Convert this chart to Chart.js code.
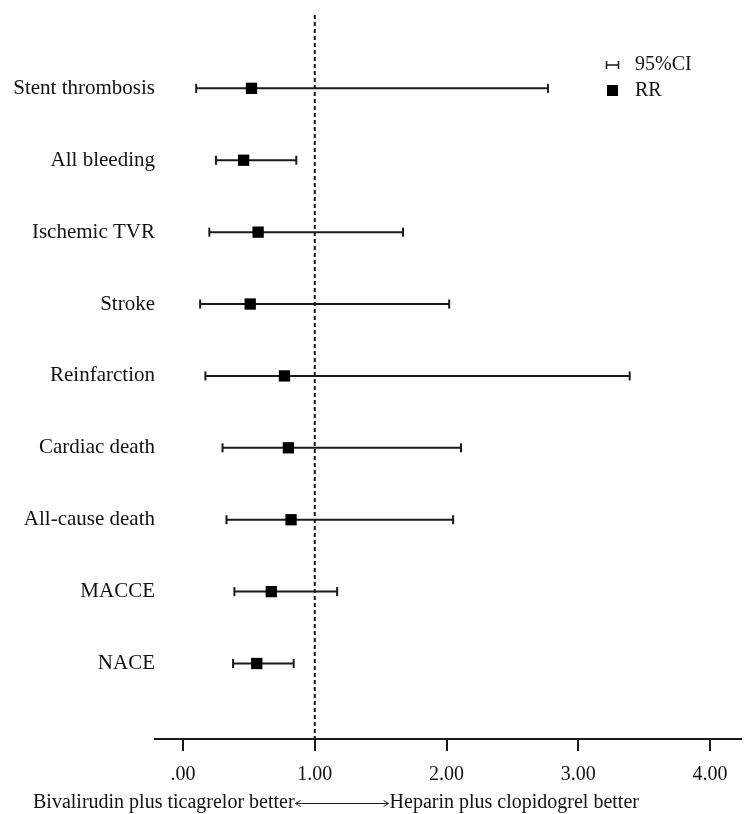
<!DOCTYPE html>
<html>
<head>
<meta charset="utf-8">
<script src="https://cdn.jsdelivr.net/npm/chart.js@4"></script>
<style>
body{margin:0;background:#fff}
#wrap{width:749px;height:814px}
</style>
</head>
<body>
<div id="wrap"><canvas id="forest"></canvas></div>
<script>
let outcomes=["Stent thrombosis","All bleeding","Ischemic TVR","Stroke","Reinfarction","Cardiac death","All-cause death","MACCE","NACE"]
let rr=[0.52,0.46,0.57,0.51,0.77,0.80,0.82,0.67,0.56]
let ciLow=[0.10,0.25,0.20,0.13,0.17,0.30,0.33,0.39,0.38]
let ciHigh=[2.77,0.86,1.67,2.02,3.39,2.11,2.05,1.17,0.84]
let xTicks=[0,1,2,3,4]
let refValue=1
let legendText=["95%CI","RR"]
let noteLeft="Bivalirudin plus ticagrelor better"
let noteRight="Heparin plus clopidogrel better"

let serif="'Liberation Serif','Times New Roman',serif"
let ink="#1a1a1a"

let datasets=[]

// squares first so they end up on top
datasets.push({
type:"scatter",
label:"RR",
data:rr.map((v,i)=>({x:v,y:i})),
pointStyle:"rect",
pointRadius:8,
pointHoverRadius:8,
backgroundColor:"#000",
borderColor:"#000",
borderWidth:0,
order:0
})

outcomes.forEach((o,i)=>{
datasets.push({
type:"line",
label:"95%CI "+o,
data:[{x:ciLow[i],y:i},{x:ciHigh[i],y:i}],
borderColor:ink,
borderWidth:2,
pointStyle:"line",
pointRotation:90,
pointRadius:4.5,
pointHoverRadius:4.5,
pointBorderWidth:2,
pointBorderColor:ink,
order:1
})
})

datasets.push({
type:"line",
label:"ref",
data:[{x:refValue,y:-1.02},{x:refValue,y:9.05}],
borderColor:ink,
borderWidth:2,
borderDash:[4,3],
pointRadius:0,
order:2
})

let extras={
id:"extras",
afterDraw(chart){
let ctx=chart.ctx
ctx.save()

// legend box top right
ctx.strokeStyle=ink
ctx.lineWidth=1.5
ctx.beginPath()
ctx.moveTo(606,65)
ctx.lineTo(619,65)
ctx.moveTo(606.5,61)
ctx.lineTo(606.5,69)
ctx.moveTo(618.5,61)
ctx.lineTo(618.5,69)
ctx.stroke()
ctx.fillStyle="#000"
ctx.fillRect(607,85,11,11)

ctx.font="20px "+serif
ctx.fillStyle="#111"
ctx.textBaseline="middle"
ctx.textAlign="left"
ctx.fillText(legendText[0],635,65)
ctx.fillText(legendText[1],635,91)

// note under the axis
let y=803
ctx.fillText(noteLeft,33,y)
let x1=33+ctx.measureText(noteLeft).width+1
let x2=x1+94
ctx.fillText(noteRight,x2,y)
ctx.lineWidth=1
ctx.beginPath()
ctx.moveTo(x1,y+0.5)
ctx.lineTo(x2-1,y+0.5)
ctx.moveTo(x1+5,y-2.5)
ctx.lineTo(x1,y+0.5)
ctx.lineTo(x1+5,y+3.5)
ctx.moveTo(x2-6,y-2.5)
ctx.lineTo(x2-1,y+0.5)
ctx.lineTo(x2-6,y+3.5)
ctx.stroke()

ctx.restore()
}
}

new Chart(document.getElementById("forest"),{
data:{datasets:datasets},
options:{
responsive:true,
maintainAspectRatio:false,
animation:false,
events:[],
layout:{padding:{top:15,right:4,left:0,bottom:0}},
plugins:{
legend:{display:false},
tooltip:{enabled:false}
},
scales:{
x:{
type:"linear",
min:-0.2125,
max:4.235,
afterBuildTicks:s=>{s.ticks=xTicks.map(v=>({value:v}))},
afterFit:s=>{s.height=75},
ticks:{
callback:v=>v===0?".00":v.toFixed(2),
font:{family:serif,size:20},
color:"#111",
padding:12
},
grid:{drawOnChartArea:false,drawTicks:true,tickLength:12,color:ink,lineWidth:2},
border:{display:true,color:ink,width:2}
},
y:{
type:"linear",
reverse:true,
min:-1.02,
max:9.05,
afterBuildTicks:s=>{s.ticks=outcomes.map((o,i)=>({value:i}))},
afterFit:s=>{s.width=155},
ticks:{
callback:v=>outcomes[v],
font:{family:serif,size:21},
color:"#111",
padding:0
},
grid:{display:false,drawTicks:false},
border:{display:false}
}
}
},
plugins:[extras]
})
</script>
</body>
</html>
